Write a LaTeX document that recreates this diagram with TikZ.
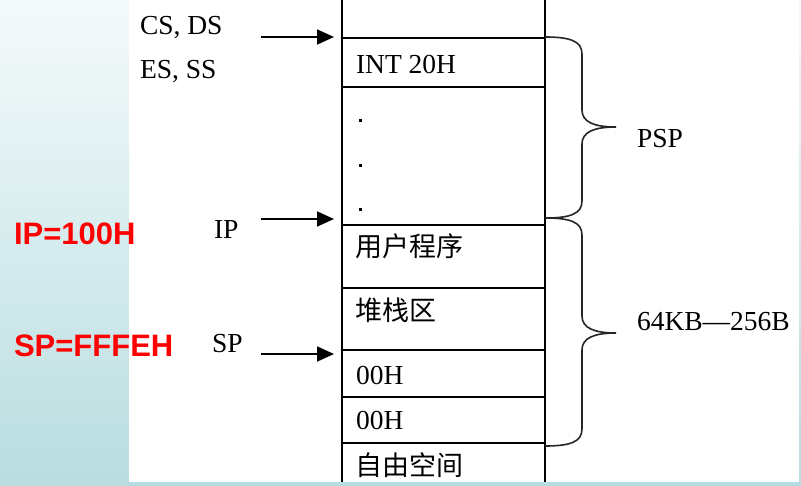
\documentclass[tikz,border=0pt]{standalone}
\usepackage{fontspec}
\setmainfont{Liberation Serif}
\newfontfamily\redsans{Liberation Sans}
\newfontfamily\cjk{Noto Sans CJK SC}
\usetikzlibrary{arrows.meta}
\definecolor{bgtop}{HTML}{F5FAFB}
\definecolor{bgbot}{HTML}{B8DDE0}
\definecolor{redlab}{HTML}{FF0000}
\tikzset{
  every node/.style={inner sep=0pt, outer sep=0pt},
  lab/.style={font=\fontsize{27.5}{30}\selectfont, text=black},
  celltext/.style={lab, anchor=west},
  cjktext/.style={font=\cjk\fontsize{27}{30}\selectfont, text=black, anchor=west},
  redtext/.style={font=\redsans\bfseries\fontsize{31}{34}\selectfont, text=redlab, anchor=west},
  colline/.style={line width=1.8pt, black},
  ptr/.style={line width=1.8pt, -{Triangle[length=17pt,width=15pt]}},
  bracepath/.style={line width=1.6pt, black!85},
  dotmark/.style={fill=black, minimum size=3pt, inner sep=0pt}
}
\begin{document}
\begin{tikzpicture}[x=1pt,y=-1pt]
\useasboundingbox (0,0) rectangle (801,486);
% background
\shade[top color=bgtop, bottom color=bgbot] (0,0) rectangle (801,486);
\fill[white] (129,0) rectangle (799,482);

% memory column
\draw[colline] (342,0) -- (342,482);
\draw[colline] (545,0) -- (545,482);
\foreach \yy in {38,87,225,288,350,397,443}
  \draw[colline] (342,\yy) -- (545,\yy);

% cell texts
\node[celltext] (int) at (356,64) {INT 20H};
\node[dotmark] (d1) at (360,121) {};
\node[dotmark] (d2) at (360,166) {};
\node[dotmark] (d3) at (360,210) {};
\node[cjktext] (user) at (355,246) {用户程序};
\node[cjktext] (stack) at (355,310) {堆栈区};
\node[celltext] (z1) at (356,375) {00H};
\node[celltext] (z2) at (356,420) {00H};
\node[cjktext] (free) at (355,465) {自由空间};

% left labels
\node[lab, anchor=west] (csds) at (140,28) {CS, DS};
\node[lab, anchor=west] (esss) at (140,72) {ES, SS};
\node[lab, anchor=west] (ip) at (214,229) {IP};
\node[lab, anchor=west] (sp) at (212,344) {SP};

% arrows
\coordinate (a1s) at (261,37);  \coordinate (a1e) at (334,37);
\coordinate (a2s) at (261,219); \coordinate (a2e) at (334,219);
\coordinate (a3s) at (261,354); \coordinate (a3e) at (334,354);
\draw[ptr] (a1s) -- (a1e);
\draw[ptr] (a2s) -- (a2e);
\draw[ptr] (a3s) -- (a3e);

% braces
\draw[bracepath] (545,37) .. controls (570,37) and (582,41) .. (582,54)
  -- (582,110) .. controls (582,122) and (594,127) .. (616,127)
  .. controls (594,127) and (582,132) .. (582,144)
  -- (582,201) .. controls (582,214) and (570,218) .. (545,218);
\draw[bracepath] (545,218) .. controls (570,218) and (582,222) .. (582,235)
  -- (582,316) .. controls (582,328) and (594,333) .. (616,333)
  .. controls (594,333) and (582,338) .. (582,350)
  -- (582,429) .. controls (582,442) and (570,446) .. (545,446);

\node[lab, anchor=west] (psp) at (637,139) {PSP};
\node[lab, anchor=west] (size) at (637,322) {64KB—256B};

% red labels
\node[redtext] (ipv) at (14,234) {IP=100H};
\node[redtext] (spv) at (14,346) {SP=FFFEH};
\end{tikzpicture}
\end{document}
